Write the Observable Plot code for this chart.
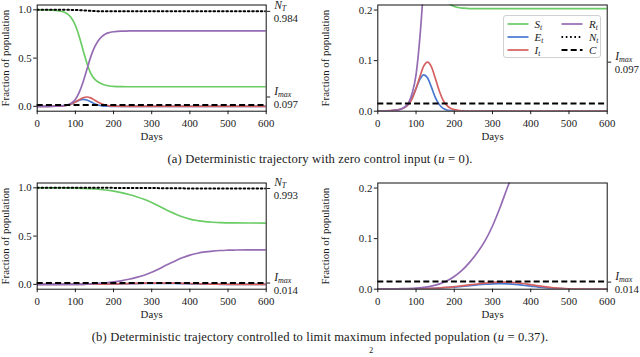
<!DOCTYPE html>
<html><head><meta charset="utf-8">
<script src="https://cdn.jsdelivr.net/npm/d3@7"></script>
<script src="https://cdn.jsdelivr.net/npm/@observablehq/plot@0.6"></script>
<style>
body{margin:0;background:#fff;}
#fig{position:relative;width:640px;height:357px;overflow:hidden;font-family:'Liberation Serif','Times New Roman',serif;color:#1a1a1a;background:#fff;}
.panel{position:absolute;width:320px;height:150px;}
.cap{position:absolute;left:0;width:640px;text-align:center;font-size:12.6px;line-height:14px;white-space:nowrap;letter-spacing:0.15px;}
.legend{position:absolute;border:1px solid #d0d0d0;border-radius:3px;background:rgba(255,255,255,0.85);box-sizing:border-box;}
.li{position:absolute;height:12px;font-size:11px;line-height:12px;white-space:nowrap;}
.li svg{position:absolute;left:0;top:3px;}
.li span{position:absolute;top:0;}
.li sub{font-size:7.5px;vertical-align:-2px;font-style:italic;}
</style></head><body><div id="fig"></div>
<script>
// ---------- data ----------
const xTicks = [0, 100, 200, 300, 400, 500, 600];
const yTicksFull = [0, 0.5, 1.0];
const yTicksZoom = [0, 0.1, 0.2];
const C_level = 0.015;

// (a) zero control input
const days_a = [0,20,40,50,60,70,80,90,100,110,120,130,140,150,160,170,180,190,200,210,220,230,240,260,300,400,500,600];
const S_a = [1.000,0.999,0.996,0.993,0.988,0.977,0.956,0.912,0.840,0.725,0.585,0.450,0.345,0.285,0.252,0.232,0.219,0.211,0.207,0.205,0.204,0.2035,0.203,0.203,0.203,0.203,0.203,0.203];
const E_a = [0.0002,0.0005,0.0013,0.0022,0.004,0.008,0.014,0.027,0.045,0.063,0.072,0.066,0.048,0.028,0.014,0.006,0.0025,0.001,0.0004,0.0002,0.0001,0,0,0,0,0,0,0];
const I_a = [0.0001,0.0005,0.0015,0.0025,0.004,0.007,0.014,0.025,0.045,0.068,0.089,0.097,0.088,0.066,0.042,0.023,0.012,0.006,0.003,0.0015,0.0007,0.0003,0.0001,0,0,0,0,0];
const R_a = [0,0.0003,0.001,0.002,0.004,0.008,0.016,0.036,0.072,0.145,0.25,0.38,0.51,0.61,0.68,0.725,0.752,0.765,0.773,0.777,0.779,0.780,0.781,0.781,0.781,0.781,0.781,0.781];
const N_a = [1,1,1,1,0.9999,0.9998,0.9997,0.9993,0.9985,0.997,0.9949,0.9922,0.9896,0.9876,0.9861,0.9852,0.9847,0.9844,0.9842,0.9841,0.9841,0.984,0.984,0.984,0.984,0.984,0.984,0.984];
const NT_a = 0.984, Imax_a = 0.097;

// (b) controlled, u = 0.37
const days_b = [0,50,100,120,140,160,180,200,220,240,260,280,300,320,340,360,380,400,420,440,460,480,500,520,550,600];
const S_b = [0.9997,0.9986,0.9967,0.9945,0.9911,0.9855,0.9772,0.9653,0.9501,0.9304,0.9077,0.8812,0.8485,0.8098,0.7685,0.7328,0.7004,0.6759,0.6608,0.650,0.6436,0.6394,0.6376,0.6362,0.6357,0.635];
const E_b = [0.0002,0.0003,0.0006,0.0009,0.0013,0.002,0.003,0.0042,0.0056,0.0071,0.0086,0.0099,0.0107,0.011,0.0105,0.0094,0.0078,0.006,0.0042,0.0028,0.0017,0.001,0.0005,0.0003,0.0001,0];
const I_b = [0.0001,0.0003,0.0007,0.001,0.0015,0.0023,0.0035,0.005,0.0066,0.0084,0.0103,0.012,0.0133,0.014,0.0139,0.013,0.0113,0.009,0.0066,0.0045,0.0028,0.0016,0.0009,0.0005,0.0002,0];
const R_b = [0,0.0008,0.002,0.0035,0.006,0.010,0.016,0.025,0.037,0.053,0.072,0.095,0.125,0.162,0.203,0.240,0.275,0.303,0.322,0.336,0.345,0.351,0.354,0.356,0.357,0.358];
const N_b = [1,1,1,0.9999,0.9999,0.9998,0.9997,0.9995,0.9993,0.9989,0.9986,0.9981,0.9975,0.9968,0.9959,0.9952,0.9945,0.9939,0.9936,0.9933,0.9931,0.993,0.993,0.993,0.993,0.993];
const NT_b = 0.993, Imax_b = 0.014;

const captions = [
  '(a) Deterministic trajectory with zero control input (<i>u</i> = 0).',
  '(b) Deterministic trajectory controlled to limit maximum infected population (<i>u</i> = 0.37).'
];
const legendItems = [
  {name:"S", sub:"t", key:"S"}, {name:"R", sub:"t", key:"R"},
  {name:"E", sub:"t", key:"E"}, {name:"N", sub:"t", key:"N"},
  {name:"I", sub:"t", key:"I"}, {name:"C", sub:"", key:"C"}
];

// ---------- styles ----------
const colors = {S:"#6acc64", E:"#4878d0", I:"#d65f5f", R:"#956cb4", N:"#000", C:"#000"};
const dash = {N:"1.6,2.7", C:"6,3.2"};
const FONT = "'Liberation Serif', 'Times New Roman', serif";

function makePanel({days, S, E, I, R, N, yDomain, yTicks, rightLabels, ml, mr}) {
  const series = {S, E, I, R};
  const lineMarks = ["S","E","I","R"].map(k =>
    Plot.line(days.map((d,i)=>({day:d, v:series[k][i]})), {x:"day", y:"v", stroke:colors[k], strokeWidth:1.7, curve:"monotone-x", clip:true})
  );
  const nLine = Plot.line(days.map((d,i)=>({day:d, v:N[i]})), {x:"day", y:"v", stroke:"#000", strokeWidth:2, strokeDasharray:dash.N, clip:true});
  const cRule = Plot.ruleY([C_level], {stroke:"#000", strokeWidth:2, strokeDasharray:dash.C});
  return Plot.plot({
    width: 320, height: 150,
    marginLeft: ml, marginRight: mr, marginTop: 4.5, marginBottom: 39.3,
    x: {domain:[0,600]},
    y: {domain: yDomain},
    style: {fontFamily: FONT, fontSize: "11px", color:"#1a1a1a", background:"transparent", overflow:"visible"},
    marks: [
      ...lineMarks, nLine, cRule,
      Plot.frame({stroke:"#111", strokeWidth:1}),
      Plot.axisX({ticks:xTicks, tickSize:3.5, tickPadding:4.5, fontSize:10.8, label:"Days", labelAnchor:"center", labelArrow:"none", labelOffset:29, fontFamily: FONT}),
      Plot.axisY({ticks:yTicks, tickFormat:d3.format(".1f"), tickSize:3.5, tickPadding:2, fontSize:10.8, label:"Fraction of population", labelAnchor:"center", labelArrow:"none", labelOffset: ml - 0.5, fontFamily: FONT}),
      Plot.axisY({anchor:"right", ticks: rightLabels.map(d=>d.v), tickFormat:()=>"", tickSize:3.5, label:null}),
      Plot.text(rightLabels, {frameAnchor:"right", y:"v", text:"name", dx:8, dy:-6, textAnchor:"start", fontStyle:"italic", fontSize:11.5, fontFamily: FONT}),
      Plot.text(rightLabels, {frameAnchor:"right", y:"v", text:"sub", dx:0, dy:0, textAnchor:"start", fontStyle:"italic", fontSize:8, fontFamily: FONT}),
      Plot.text(rightLabels, {frameAnchor:"right", y:"v", text:d=>d3.format(".3f")(d.v), dx:7.5, dy:7.5, textAnchor:"start", fontSize:10.8, fontFamily: FONT})
    ]
  });
}

function makePanelSub(o) {
  const svg = makePanel(o);
  const groups = svg.querySelectorAll('g[aria-label="text"]');
  if (groups.length >= 3) {
    const mains = groups[0].querySelectorAll("text");
    const subs = groups[1].querySelectorAll("text");
    subs.forEach((s, i) => {
      const m = mains[i];
      s.setAttribute("transform", m.getAttribute("transform") || "");
      const w = o.rightLabels[i].name === "N" ? 7.6 : 3.9;
      s.setAttribute("dx", 8 + w); s.setAttribute("dy", -3);
      s.setAttribute("x", m.getAttribute("x") || 0);
      s.setAttribute("y", m.getAttribute("y") || 0);
    });
  }
  return svg;
}

const fig = document.getElementById("fig");
function place(el, left, top) {
  const d = document.createElement("div");
  d.className = "panel"; d.style.left = left+"px"; d.style.top = top+"px";
  d.appendChild(el); fig.appendChild(d);
}

const rlA1 = [{v:NT_a, name:"N", sub:"T"}, {v:Imax_a, name:"I", sub:"max"}];
const rlA2 = [{v:Imax_a, name:"I", sub:"max"}];
const rlB1 = [{v:NT_b, name:"N", sub:"T"}, {v:Imax_b, name:"I", sub:"max"}];
const rlB2 = [{v:Imax_b, name:"I", sub:"max"}];

const topY = 0, botY = 177.5;
place(makePanelSub({days:days_a,S:S_a,E:E_a,I:I_a,R:R_a,N:N_a,yDomain:[-0.05,1.05],yTicks:yTicksFull,rightLabels:rlA1,ml:36.7,mr:54.3}), 0, topY);
place(makePanelSub({days:days_a,S:S_a,E:E_a,I:I_a,R:R_a,N:N_a,yDomain:[0,0.21],yTicks:yTicksZoom,rightLabels:rlA2,ml:57.3,mr:33.3}), 320, topY);
place(makePanelSub({days:days_b,S:S_b,E:E_b,I:I_b,R:R_b,N:N_b,yDomain:[-0.05,1.05],yTicks:yTicksFull,rightLabels:rlB1,ml:36.7,mr:54.3}), 0, botY);
place(makePanelSub({days:days_b,S:S_b,E:E_b,I:I_b,R:R_b,N:N_b,yDomain:[0,0.21],yTicks:yTicksZoom,rightLabels:rlB2,ml:57.3,mr:33.3}), 320, botY);

// captions
captions.forEach((c, i) => {
  const d = document.createElement("div");
  d.className = "cap"; d.innerHTML = c;
  d.style.top = (i === 0 ? 152.3 : 329.7) + "px";
  fig.appendChild(d);
});
const frag = document.createElement("div");
frag.style.cssText = "position:absolute;left:369px;top:345px;font-size:8.5px;";
frag.textContent = "2";
fig.appendChild(frag);

// legend in top-right panel
const lg = document.createElement("div");
lg.className = "legend";
lg.style.cssText += "left:502.5px;top:15px;width:98.5px;height:42.5px;";
legendItems.forEach((it, i) => {
  const col = i % 2, row = Math.floor(i / 2);
  const item = document.createElement("div");
  item.className = "li";
  item.style.left = (col === 0 ? 3 : 57.5) + "px";
  item.style.top = (2.3 + row * 12.6) + "px";
  const da = dash[it.key] ? `stroke-dasharray="${dash[it.key]}"` : "";
  const sw = dash[it.key] ? 2 : 1.7;
  item.innerHTML = `<svg width="22" height="6"><line x1="0.5" y1="3" x2="21.5" y2="3" stroke="${colors[it.key]}" stroke-width="${sw}" ${da}/></svg><span style="left:28px"><i>${it.name}</i>${it.sub ? `<sub>${it.sub}</sub>` : ""}</span>`;
  lg.appendChild(item);
});
fig.appendChild(lg);
</script>
</body></html>
